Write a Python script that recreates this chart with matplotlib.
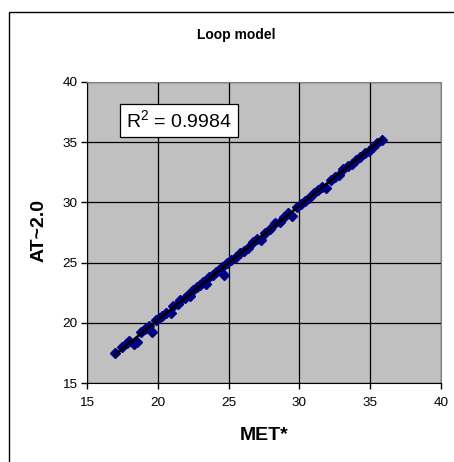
import matplotlib
matplotlib.use("Agg")
import matplotlib.pyplot as plt
from matplotlib.patches import Rectangle
import numpy as np

plt.rcParams['font.family'] = ['Liberation Sans', 'DejaVu Sans']
plt.rcParams['mathtext.fontset'] = 'custom'
plt.rcParams['mathtext.rm'] = 'Liberation Sans'
plt.rcParams['mathtext.it'] = 'Liberation Sans'

# MET* vs AT~2.0 readings
met = [17.0, 17.5, 17.8, 18.0, 18.3, 18.5, 18.8, 19.1, 19.4, 19.6, 19.9, 20.1,
       20.3, 20.6, 20.9, 21.1, 21.4, 21.6, 21.9, 22.1, 22.3, 22.5, 22.8, 23.0,
       23.2, 23.4, 23.6, 23.9, 24.1, 24.3, 24.5, 24.7, 24.9, 25.2, 25.5, 25.8,
       26.1, 26.4, 26.7, 27.0, 27.3, 27.6, 27.9, 28.3, 28.6, 28.9, 29.2, 29.5,
       29.8, 30.1, 30.4, 30.7, 31.0, 31.3, 31.6, 31.9, 32.2, 32.5, 32.8, 33.1,
       33.4, 33.7, 34.0, 34.3, 34.6, 34.9, 35.2, 35.5, 35.8]
at20 = [17.5, 18.0, 18.3, 18.5, 18.2, 18.4, 19.2, 19.5, 19.7, 19.2, 20.2, 20.4,
        20.6, 20.8, 20.8, 21.4, 21.6, 21.9, 22.1, 22.3, 22.2, 22.7, 23.0, 23.1,
        23.4, 23.2, 23.8, 24.0, 24.2, 24.4, 24.6, 24.0, 25.0, 25.2, 25.5, 25.8,
        26.0, 26.2, 26.7, 27.0, 26.9, 27.5, 27.8, 28.3, 28.4, 28.8, 29.1, 28.9,
        29.6, 29.9, 30.1, 30.4, 30.8, 31.0, 31.3, 31.2, 31.9, 32.1, 32.3, 32.8,
        33.0, 33.2, 33.5, 33.8, 34.1, 34.3, 34.6, 34.9, 35.2]
ticks = [15, 20, 25, 30, 35, 40]
r2_label = r'R$^2$ = 0.9984'

fig = plt.figure(figsize=(4.54, 4.62), dpi=100)
ax = fig.add_axes([87/454, 79/462, 354/454, 301/462])
ax.set_facecolor('#C0C0C0')

# outer chart frame (runs off right and bottom edges)
fig.patches.append(Rectangle((9/454, -0.2), 1.2, 1 - 12/462 + 0.2,
                             transform=fig.transFigure, fill=False,
                             edgecolor='black', linewidth=1, clip_on=False))

ax.plot(met, at20, linestyle='none', marker='D', markersize=5,
        color='#000080', zorder=3)

# linear trend line
k, b = np.polyfit(met, at20, 1)
xs = np.array([min(met), max(met)])
ax.plot(xs, k * xs + b, color='black', linewidth=1.8, zorder=4)

ax.set_xlim(15, 40)
ax.set_ylim(15, 40)
ax.set_xticks(ticks)
ax.set_yticks(ticks)
ax.grid(True, color='black', linewidth=0.9)
ax.set_axisbelow(True)
ax.tick_params(direction='out', length=4, width=1, labelsize=9.7, pad=3)
ax.tick_params(axis='x', pad=6)
for s in ['top', 'right']:
    ax.spines[s].set_color('#808080')
for s in ['left', 'bottom']:
    ax.spines[s].set_color('black')

ax.text(0.26, 0.872, r2_label, transform=ax.transAxes, fontsize=14,
        ha='center', va='center', zorder=5,
        bbox=dict(boxstyle='square,pad=0.3', facecolor='white',
                  edgecolor='black', linewidth=0.9))

fig.text(236/454, 1 - 35/462, 'Loop model', ha='center', va='center',
         fontsize=10, fontweight='bold')
fig.text(264/454, 1 - 435/462, 'MET*', ha='center', va='center',
         fontsize=14, fontweight='bold')
fig.text(39/454, 1 - 231/462, 'AT~2.0', ha='center', va='center',
         rotation=90, fontsize=14, fontweight='bold')

fig.savefig('out.png', dpi=100)
